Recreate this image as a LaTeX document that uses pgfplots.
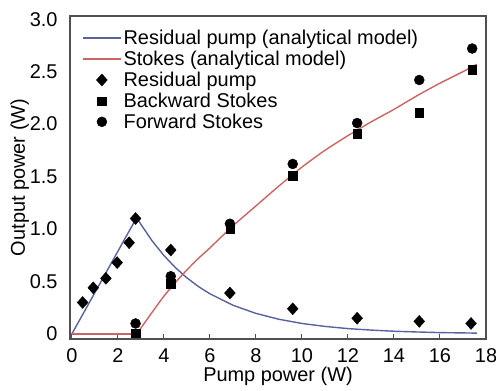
\documentclass[border=0pt]{standalone}
\usepackage{pgfplots}
\pgfplotsset{compat=1.18}
\usepackage{fontspec}
\setmainfont{Liberation Sans}
\definecolor{cblue}{RGB}{88,98,160}
\definecolor{cred}{RGB}{205,100,100}
\definecolor{cframe}{RGB}{80,80,80}
\begin{document}
\begin{tikzpicture}
\useasboundingbox (-70bp,-52bp) rectangle (426bp,339bp);
\begin{axis}[
  at={(0,0)}, anchor=south west,
  scale only axis, width=416bp, height=323bp,
  xmin=-0.08, xmax=18, ymin=-0.048, ymax=3.03,
  font=\fontsize{20}{22}\selectfont,
  axis line style={cframe, line width=1.2bp},
  xtick={0,2,...,18}, ytick={0,0.5,...,3.0},
  yticklabels={0,0.5,1.0,1.5,2.0,2.5,3.0},
  xtick pos=bottom, ytick pos=left,
  tick align=inside,
  major tick length=5bp,
  tick style={cframe, line width=1bp},
  ytick style={draw=none},
  /pgf/number format/assume math mode=true,
  yticklabel style={xshift=-9bp},
  xticklabel style={yshift=-6bp},
  xlabel={Pump power (W)}, ylabel={Output power (W)},
  xlabel style={yshift=2bp},
  ylabel style={yshift=-6bp},
  legend style={draw=none, fill=none, at={(12bp,311bp)}, anchor=north west,
    font=\fontsize{20}{20}\selectfont, row sep=1bp, inner sep=0pt,
    /tikz/every even column/.append style={column sep=0bp}},
  legend cell align=left,
  legend image code/.code={\draw[mark repeat=2,mark phase=2,#1] plot coordinates {(0bp,0bp) (19bp,0bp) (38bp,0bp)};},
]
\addplot[cblue, line width=1.4bp] coordinates {
(0,0) (2.82,1.11) (3,1.045) (3.5,0.884) (4,0.748) (4.5,0.632) (5,0.535) (5.5,0.452) (6,0.383) (7,0.274) (8,0.196) (9,0.140) (10,0.100) (11,0.072) (12,0.051) (13,0.037) (14,0.026) (15,0.019) (16,0.013) (17,0.010) (17.6,0.008)};
\addlegendentry{Residual pump (analytical model)}
\addplot[cred, line width=1.4bp, smooth, tension=0.4] coordinates {
(2.82,0) (3.5,0.21) (4,0.36) (4.5,0.49) (5,0.61) (5.5,0.72) (6,0.82) (7,1.03) (8,1.22) (9,1.41) (10,1.59) (11,1.75) (12,1.89) (13,2.02) (14,2.14) (15,2.27) (16,2.39) (17,2.50) (17.6,2.57)};
\addlegendentry{Stokes (analytical model)}
\addplot[only marks, mark=diamond*, mark size=6bp, mark options={fill=black, draw=black, xscale=1.2}] coordinates {
(0.47,0.30) (0.93,0.44) (1.48,0.53) (1.97,0.68) (2.49,0.87) (2.77,1.10) (4.3,0.80) (6.87,0.39) (9.6,0.24) (12.4,0.15) (15.1,0.12) (17.35,0.10)};
\addlegendentry{Residual pump}
\addplot[only marks, mark=square*, mark size=4.2bp, mark options={fill=black, draw=black}] coordinates {
(2.77,0.01) (4.3,0.48) (6.87,1.0) (9.6,1.51) (12.4,1.91) (15.1,2.11) (17.4,2.52)};
\addlegendentry{Backward Stokes}
\addplot[only marks, mark=*, mark size=5bp, mark options={fill=black, draw=black}] coordinates {
(2.77,0.10) (4.3,0.55) (6.87,1.05) (9.6,1.62) (12.4,2.01) (15.1,2.42) (17.4,2.72)};
\addlegendentry{Forward Stokes}
\addplot[cred, line width=1.4bp, forget plot] coordinates {(0,0) (2.82,0)};
\end{axis}
\end{tikzpicture}
\end{document}
